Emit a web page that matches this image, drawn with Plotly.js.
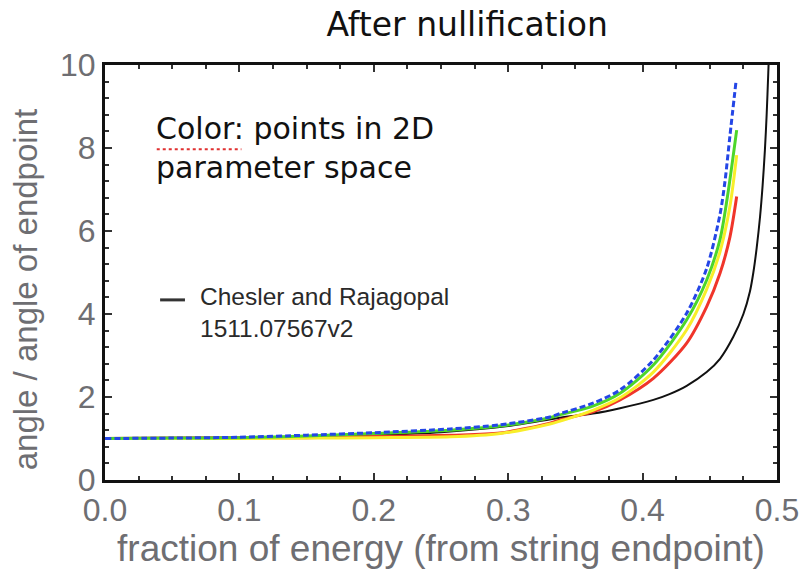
<!DOCTYPE html>
<html>
<head>
<meta charset="utf-8">
<script src="https://cdn.plot.ly/plotly-3.0.1.min.js"></script>
<style>html,body{margin:0;padding:0;background:#fff;}#chart{width:804px;height:576px;}</style>
</head>
<body>
<div id="chart"></div>
<script>
// Black reference curve: Chesler and Rajagopal 1511.07567v2
const blackX = [0, 0.05, 0.1, 0.15, 0.2, 0.25, 0.3, 0.3385, 0.363, 0.3832, 0.408, 0.42, 0.4328, 0.4477, 0.4576, 0.4675, 0.475, 0.4799, 0.4824, 0.4849, 0.4874, 0.4893, 0.491, 0.4923, 0.4935, 0.4945];
const blackY = [1.0, 1.01, 1.02, 1.04, 1.08, 1.15, 1.3, 1.5, 1.6, 1.73, 1.93, 2.07, 2.27, 2.6, 2.92, 3.45, 4.0, 4.55, 5.0, 5.6, 6.35, 7.1, 7.95, 8.8, 9.8, 10.7];

// Coloured curves (points in 2D parameter space)
const blueX = [0, 0.05, 0.1, 0.15, 0.2, 0.257, 0.294, 0.331, 0.3385, 0.363, 0.3832, 0.408, 0.4328, 0.4477, 0.4576, 0.4613, 0.465, 0.4695];
const blueY = [1.0, 1.01, 1.03, 1.08, 1.14, 1.23, 1.33, 1.52, 1.6, 1.85, 2.17, 2.89, 4.02, 5.1, 6.4, 7.2, 8.3, 9.6];

const greenX = [0, 0.05, 0.1, 0.15, 0.2, 0.257, 0.294, 0.331, 0.3385, 0.363, 0.3832, 0.408, 0.4328, 0.4477, 0.4576, 0.463, 0.470];
const greenY = [1.0, 1.01, 1.02, 1.06, 1.12, 1.2, 1.3, 1.5, 1.57, 1.78, 2.09, 2.77, 3.86, 4.82, 5.8, 6.8, 8.43];

const yellowX = [0, 0.05, 0.1, 0.15, 0.2, 0.257, 0.294, 0.331, 0.3385, 0.363, 0.3832, 0.408, 0.4328, 0.4477, 0.4576, 0.465, 0.470];
const yellowY = [1.0, 1.0, 1.0, 1.01, 1.02, 1.04, 1.12, 1.35, 1.42, 1.68, 1.98, 2.6, 3.62, 4.6, 5.5, 6.6, 7.83];

const redX = [0, 0.05, 0.1, 0.15, 0.2, 0.257, 0.294, 0.331, 0.3385, 0.363, 0.3832, 0.408, 0.4328, 0.4477, 0.4576, 0.465, 0.470];
const redY = [1.0, 1.01, 1.02, 1.02, 1.05, 1.08, 1.13, 1.37, 1.45, 1.64, 1.93, 2.45, 3.3, 4.18, 4.98, 5.86, 6.83];

const xTickVals = [0, 0.1, 0.2, 0.3, 0.4, 0.5];
const xTickText = ['0.0', '0.1', '0.2', '0.3', '0.4', '0.5'];
const yTickVals = [0, 2, 4, 6, 8, 10];
const yTickText = ['0', '2', '4', '6', '8', '10'];

const titleText = 'After nullification';
const xTitle = 'fraction of energy (from string endpoint)';
const yTitle = 'angle / angle of endpoint';
const noteText = 'Color: points in 2D<br>parameter space';
const refText = 'Chesler and Rajagopal<br>1511.07567v2';

const sp = {shape: 'spline', smoothing: 0.8};
const traces = [
  {x: blackX, y: blackY, mode: 'lines', line: Object.assign({color: '#111', width: 2}, sp), name: 'Chesler and Rajagopal'},
  {x: redX, y: redY, mode: 'lines', line: Object.assign({color: '#f0352a', width: 3}, sp), name: 'red'},
  {x: yellowX, y: yellowY, mode: 'lines', line: Object.assign({color: '#f8ee2a', width: 3}, sp), name: 'yellow'},
  {x: greenX, y: greenY, mode: 'lines', line: Object.assign({color: '#4cd62a', width: 3}, sp), name: 'green'},
  {x: blueX, y: blueY, mode: 'lines', line: Object.assign({color: '#2446e6', width: 3, dash: '6px,3px'}, sp), name: 'blue'}
];

const grey = '#6e6e72';
const axisCommon = {
  showline: true, linecolor: '#111', linewidth: 3, mirror: 'ticks',
  ticks: 'inside', ticklen: 7, tickwidth: 2, tickcolor: '#333',
  showgrid: false, zeroline: false,
  tickfont: {family: 'Liberation Sans, Arial, sans-serif', size: 32, color: grey}
};

const layout = {
  width: 804, height: 576,
  margin: {l: 105, r: 27, t: 65, b: 96},
  paper_bgcolor: '#fff', plot_bgcolor: '#fff',
  showlegend: false,
  title: {text: titleText, xref: 'container', yref: 'container', x: 0.581, y: 0.957, xanchor: 'center', yanchor: 'middle',
          font: {family: 'DejaVu Sans, Verdana, sans-serif', size: 33, color: '#111'}},
  xaxis: Object.assign({}, axisCommon, {
    range: [0, 0.5], tickvals: xTickVals, ticktext: xTickText,
    minor: {dtick: 0.025, ticks: 'inside', ticklen: 4, tickcolor: '#333', showgrid: false},
    title: {text: xTitle, standoff: 6, font: {family: 'Liberation Sans, Arial, sans-serif', size: 37, color: grey}}
  }),
  yaxis: Object.assign({}, axisCommon, {
    range: [0, 10], tickvals: yTickVals, ticktext: yTickText,
    minor: {dtick: 0.4, ticks: 'inside', ticklen: 4, tickcolor: '#333', showgrid: false}
  }),
  annotations: [
    {text: yTitle, xref: 'paper', yref: 'paper', x: -0.117, y: 0.458, xanchor: 'center', yanchor: 'middle', textangle: -90, showarrow: false,
     font: {family: 'Liberation Sans, Arial, sans-serif', size: 33, color: grey}},
    {text: noteText, xref: 'paper', yref: 'paper', x: 0.073, y: 0.893, xanchor: 'left', yanchor: 'top', align: 'left', showarrow: false,
     font: {family: 'DejaVu Sans, Verdana, sans-serif', size: 30, color: '#111'}},
    {text: refText, xref: 'paper', yref: 'paper', x: 0.139, y: 0.48, xanchor: 'left', yanchor: 'top', align: 'left', showarrow: false,
     font: {family: 'Liberation Sans, Arial, sans-serif', size: 24.5, color: '#2a2a2a'}}
  ],
  shapes: [
    {type: 'line', xref: 'paper', yref: 'paper', x0: 0.082, x1: 0.119, y0: 0.434, y1: 0.434, line: {color: '#333', width: 3}},
    {type: 'line', xref: 'paper', yref: 'paper', x0: 0.077, x1: 0.203, y0: 0.797, y1: 0.797, line: {color: '#e03030', width: 2, dash: 'dot'}}
  ]
};

Plotly.newPlot('chart', traces, layout, {displayModeBar: false, staticPlot: true});
</script>
</body>
</html>
